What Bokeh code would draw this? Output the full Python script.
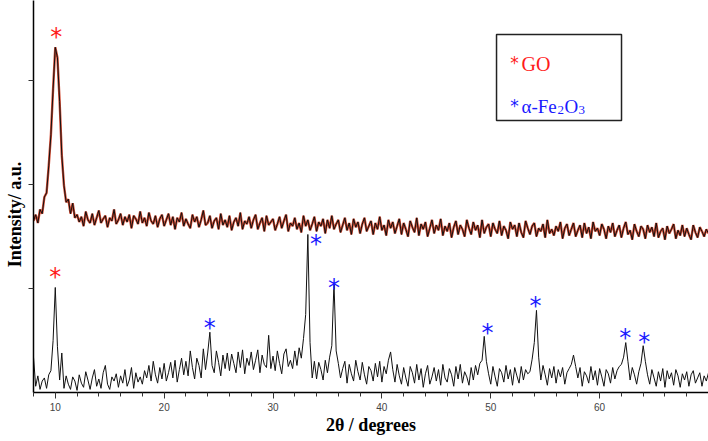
from bokeh.plotting import figure
from bokeh.models import FixedTicker, BoxAnnotation
from bokeh.core.properties import value
from bokeh.embed import file_html
from bokeh.resources import INLINE

# ---------------- data ----------------
two_theta_start = 8.0
two_theta_step = 0.2

# GO pattern (upper trace), a.u.
go_intensity = [
    165, 171, 163, 176, 172, 188, 192, 218, 248, 292,
    332, 322, 280, 228, 199, 183, 186, 172, 182, 168,
    171, 164, 169, 160, 174, 166, 163, 172, 161, 168,
    175, 163, 167, 170, 159, 168, 165, 176, 162, 166,
    172, 161, 169, 164, 171, 158, 170, 167, 162, 174,
    163, 168, 160, 173, 165, 162, 170, 159, 167, 171,
    160, 166, 172, 161, 169, 157, 168, 164, 173, 160,
    167, 162, 158, 171, 164, 169, 159, 166, 175, 161,
    163, 170, 158, 165, 168, 157, 172, 161, 166, 159,
    170, 156, 164, 168, 160, 173, 157, 165, 162, 169,
    158, 166, 171, 157, 163, 168, 155, 170, 161, 164,
    167, 156, 162, 169, 158, 165, 171, 155, 163, 160,
    168, 157, 163, 154, 170, 160, 166, 156, 162, 169,
    155, 164, 160, 167, 153, 166, 158, 170, 157, 162,
    166, 154, 161, 168, 156, 163, 152, 167, 159, 164,
    153, 162, 168, 155, 160, 165, 152, 163, 157, 169,
    156, 161, 151, 166, 158, 164, 153, 160, 167, 152,
    163, 157, 150, 165, 159, 154, 168, 151, 162, 157,
    164, 150, 158, 166, 153, 161, 156, 167, 151, 160,
    155, 163, 149, 159, 165, 152, 161, 157, 150, 166,
    158, 152, 164, 156, 161, 149, 166, 153, 159, 162,
    150, 163, 157, 153, 165, 151, 160, 156, 148, 164,
    157, 161, 150, 163, 154, 149, 165, 158, 152, 160,
    163, 150, 158, 155, 162, 149, 166, 153, 157, 151,
    160, 155, 164, 148, 158, 162, 151, 157, 163, 150,
    156, 161, 149, 163, 153, 159, 148, 164, 155, 158,
    151, 162, 157, 148, 160, 154, 163, 150, 156, 161,
    149, 158, 164, 152, 156, 147, 162, 155, 150, 160,
    157, 148, 161, 154, 159, 150, 163, 149, 155, 158,
    147, 160, 153, 157, 162, 148, 156, 151, 161, 150,
    158, 152, 147, 161, 154, 149, 159, 155, 150, 157,
    153,
]

# GO / alpha-Fe2O3 composite pattern (lower trace), a.u.
fe_intensity = [
    34, 6, 16, 3, 11, 14, 4, 17, 21, 50,
    101, 44, 12, 38, 4, 16, 8, 3, 15, 11,
    2, 17, 9, 5, 20, 12, 3, 14, 22, 6,
    13, 4, 19, 26, 8, 3, 15, 11, 18, 5,
    16, 9, 22, 6, 12, 24, 4, 19, 10, 15,
    8, 21, 14, 26, 11, 30, 17, 9, 24, 13,
    28, 11, 19, 29, 14, 31, 10, 22, 33, 17,
    30, 16, 40, 24, 13, 33, 26, 14, 42, 22,
    38, 58, 26, 19, 40, 29, 16, 36, 23, 38,
    21, 37, 28, 19, 39, 24, 41, 18, 33, 26,
    39, 22, 31, 41, 19, 36, 27, 24, 55, 23,
    35, 21, 40, 28, 18, 37, 42, 25, 31, 23,
    40, 26, 43, 33, 52, 75, 152, 48, 14, 30,
    13, 29, 22, 12, 31, 19, 34, 45, 105, 40,
    28, 14, 23, 30, 9, 27, 18, 11, 31, 20,
    12, 29, 17, 8, 25, 21, 11, 28, 15, 30,
    10, 25, 18, 31, 39, 22, 10, 27, 16, 8,
    24, 14, 6, 25, 19, 9, 27, 12, 23, 5,
    18, 26, 8, 15, 24, 11, 22, 7, 27, 14,
    10, 23, 17, 6, 25, 13, 27, 9, 20, 15,
    7, 24, 12, 26, 17, 28, 31, 54, 30, 18,
    8, 25, 15, 6, 23, 19, 10, 26, 13, 22,
    7, 24, 16, 9, 25, 12, 22, 18, 20, 32,
    48, 79, 34, 12, 26, 17, 7, 23, 14, 25,
    9, 22, 15, 24, 8, 19, 23, 27, 36, 25,
    14, 24, 6, 20, 16, 9, 25, 12, 21, 7,
    23, 15, 6, 22, 18, 9, 24, 13, 21, 25,
    27, 34, 48, 30, 12, 24, 17, 8, 20, 28,
    45, 30, 17, 8, 22, 14, 6, 20, 11, 23,
    5, 21, 13, 19, 7, 22, 16, 5, 18, 12,
    20, 6, 17, 21, 9, 14, 19, 6, 16, 11,
    19,
]

two_theta = [round(two_theta_start + two_theta_step * i, 1) for i in range(len(go_intensity))]

# peak markers (asterisks)
go_mark_x = [10.1, 10.0]
go_mark_y = [346, 115]
fe_mark_x = [24.2, 33.95, 35.6, 49.7, 54.1, 62.35, 64.1]
fe_mark_y = [66, 147, 104, 61, 87, 56, 52]

x_major_ticks = [10, 20, 30, 40, 50, 60]
x_minor_ticks = list(range(8, 71, 2))
y_ticks = [100, 200, 300]

# ---------------- figure ----------------
p = figure(width=708, height=441, x_range=(8.0, 70.0), y_range=(0, 377),
           output_backend="svg", toolbar_location=None,
           min_border_left=33, min_border_right=0, min_border_top=0,
           min_border_bottom=49)
p.outline_line_color = None
p.grid.visible = False
p.background_fill_color = "white"
p.border_fill_color = "white"

# axes
p.xaxis.ticker = FixedTicker(ticks=x_major_ticks, minor_ticks=x_minor_ticks)
p.xaxis.axis_line_color = "black"
p.xaxis.axis_line_width = 1.5
p.xaxis.major_tick_in = 0
p.xaxis.major_tick_out = 6
p.xaxis.minor_tick_in = 0
p.xaxis.minor_tick_out = 4
p.xaxis.major_tick_line_color = "#333333"
p.xaxis.minor_tick_line_color = "#333333"
p.xaxis.major_label_text_font = "Liberation Sans"
p.xaxis.major_label_text_font_size = "10px"
p.xaxis.major_label_text_color = "#444444"
p.xaxis.major_label_standoff = 4
p.xaxis.axis_label = "2θ / degrees"
p.xaxis.axis_label_text_font = "Liberation Serif"
p.xaxis.axis_label_text_font_style = "bold"
p.xaxis.axis_label_text_font_size = "18px"
p.xaxis.axis_label_text_color = "black"
p.xaxis.axis_label_standoff = 1

p.yaxis.ticker = FixedTicker(ticks=y_ticks, minor_ticks=[])
p.yaxis.major_label_overrides = {100: "", 200: "", 300: ""}
p.yaxis.major_label_standoff = 0
p.yaxis.axis_line_color = "black"
p.yaxis.axis_line_width = 1.5
p.yaxis.major_tick_in = 0
p.yaxis.major_tick_out = 5
p.yaxis.major_tick_line_color = "#333333"
p.yaxis.minor_tick_line_color = None
# trailing no-break spaces push the centred title down to where the reference has it
p.yaxis.axis_label = "Intensity/ a.u." + "\u00a0" * 8
p.yaxis.axis_label_text_font = "Liberation Serif"
p.yaxis.axis_label_text_font_style = "bold"
p.yaxis.axis_label_text_font_size = "18px"
p.yaxis.axis_label_text_color = "black"
p.yaxis.axis_label_standoff = 4

# traces
p.line(two_theta, go_intensity, line_color="#d04a32", line_width=2.4)
p.line(two_theta, go_intensity, line_color="#111111", line_width=1.0)
p.line(two_theta, fe_intensity, line_color="#111111", line_width=1.0)

# asterisks
p.text(go_mark_x, go_mark_y, text=["*"] * len(go_mark_x), text_color="#ff1a1a",
       text_font=value("DejaVu Sans"), text_font_size="24px",
       text_align="center", text_baseline="middle", y_offset=4)
p.text(fe_mark_x, fe_mark_y, text=["*"] * len(fe_mark_x), text_color="#1a1aff",
       text_font=value("DejaVu Sans"), text_font_size="24px",
       text_align="center", text_baseline="middle", y_offset=4)

# legend box
p.add_layout(BoxAnnotation(left=50.53, right=62.01, top=344.2, bottom=261.5,
                           fill_color=None, fill_alpha=0, line_color="#222222",
                           line_alpha=1.0, line_width=1.5))
leg_x = 52.82
serif = value("Liberation Serif")
p.text([leg_x], [316], text=["*"], text_color="#ff1a1a", text_font=value("DejaVu Sans"),
       text_font_size="17px", text_align="center", text_baseline="alphabetic",
       x_offset=-7, y_offset=-1)
p.text([leg_x], [316], text=["GO"], text_color="#ff1a1a", text_font=serif,
       text_font_size="20px", text_align="left", text_baseline="alphabetic")
p.text([leg_x], [275], text=["*"], text_color="#1a1aff", text_font=value("DejaVu Sans"),
       text_font_size="17px", text_align="center", text_baseline="alphabetic",
       x_offset=-7, y_offset=-1)
for piece, dx, dy, size in [("α-Fe", 0, 0, "19px"), ("2", 36, 3, "13px"),
                            ("O", 43, 0, "19px"), ("3", 57, 3, "13px")]:
    p.text([leg_x], [275], text=[piece], text_color="#1a1aff", text_font=serif,
           text_font_size=size, text_align="left", text_baseline="alphabetic",
           x_offset=dx, y_offset=dy)

open("out.html", "w").write(file_html(p, INLINE))
